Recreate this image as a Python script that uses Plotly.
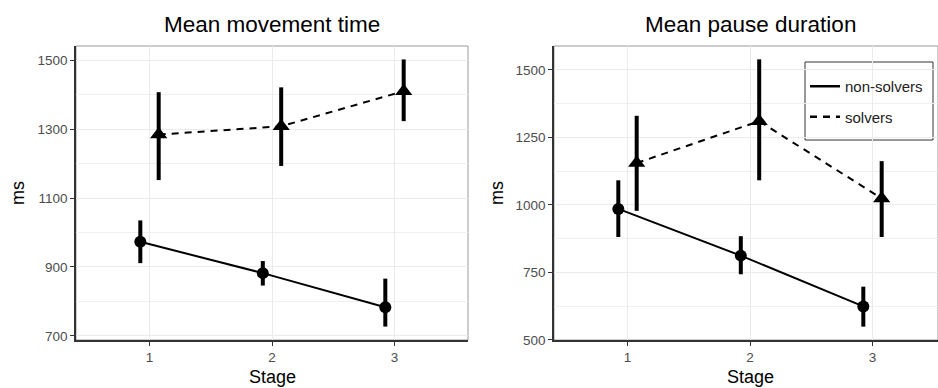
import plotly.graph_objects as go

# ---- data ----
stages = [1, 2, 3]

# Mean movement time (ms)
mt_non_mean = [973, 882, 783]
mt_non_lo = [911, 846, 727]
mt_non_hi = [1035, 917, 866]
mt_sol_mean = [1284, 1308, 1410]
mt_sol_lo = [1152, 1193, 1323]
mt_sol_hi = [1407, 1421, 1502]

# Mean pause duration (ms)
pd_non_mean = [985, 812, 624]
pd_non_lo = [881, 743, 549]
pd_non_hi = [1091, 884, 697]
pd_sol_mean = [1155, 1310, 1024]
pd_sol_lo = [978, 1091, 881]
pd_sol_hi = [1330, 1539, 1162]

titles = ["Mean movement time", "Mean pause duration"]
group_names = ["non-solvers", "solvers"]

# ---- styling ----
W, H = 938, 388
FONT = "Liberation Sans, Arial, Helvetica, sans-serif"
DODGE = 0.075
DASH = "7px,6px"


def fx(px):
    return px / W


def fy(py):
    return 1 - py / H


fig = go.Figure()


def add_group(xa, ya, mean, lo, hi, offset, dash, symbol, size):
    xs = [s + offset for s in stages]
    fig.add_trace(go.Scatter(
        x=xs, y=mean, xaxis=xa, yaxis=ya, mode="lines+markers",
        line=dict(color="black", width=2, dash=dash),
        marker=dict(symbol=symbol, size=size, color="black"),
        error_y=dict(type="data", symmetric=False,
                     array=[h - m for h, m in zip(hi, mean)],
                     arrayminus=[m - l for m, l in zip(mean, lo)],
                     color="black", thickness=4, width=0),
        showlegend=False, hoverinfo="skip"))


add_group("x", "y", mt_non_mean, mt_non_lo, mt_non_hi, -DODGE, "solid", "circle", 12)
add_group("x", "y", mt_sol_mean, mt_sol_lo, mt_sol_hi, DODGE, DASH, "triangle-up", 15)
add_group("x2", "y2", pd_non_mean, pd_non_lo, pd_non_hi, -DODGE, "solid", "circle", 12)
add_group("x2", "y2", pd_sol_mean, pd_sol_lo, pd_sol_hi, DODGE, DASH, "triangle-up", 15)

# legend-only traces (line type only)
for name, dash in zip(group_names, ["solid", DASH]):
    fig.add_trace(go.Scatter(x=[None], y=[None], xaxis="x2", yaxis="y2", mode="lines",
                             name=name, legendgroup=name,
                             line=dict(color="black", width=2.5, dash=dash)))

ydom = [fy(340), fy(46)]
xdom1 = [fx(76), fx(468)]
xdom2 = [fx(554), 1.0]

TICKFONT = dict(size=13.5, color="#4d4d4d", family=FONT)
common_x = dict(tickvals=stages, ticktext=[str(s) for s in stages],
                showgrid=True, gridcolor="#ebebeb", gridwidth=1,
                zeroline=False, showline=True, linecolor="#333333", linewidth=1.5,
                ticks="outside", ticklen=4, tickcolor="#333333",
                tickfont=TICKFONT, automargin=False)
common_y = dict(showgrid=True, gridcolor="#ebebeb", gridwidth=1,
                zeroline=False, showline=True, linecolor="#333333", linewidth=1.5,
                ticks="outside", ticklen=4, tickcolor="#333333",
                tickfont=TICKFONT, automargin=False)

fig.update_layout(
    width=W, height=H,
    margin=dict(l=0, r=0, t=0, b=0),
    paper_bgcolor="white", plot_bgcolor="white",
    font=dict(family=FONT, color="black"),
    xaxis=dict(domain=xdom1, range=[0.4, 3.6], anchor="y", **common_x),
    yaxis=dict(domain=ydom, range=[688, 1541], anchor="x",
               tickvals=[700, 900, 1100, 1300, 1500],
               minor=dict(tickvals=[800, 1000, 1200, 1400], showgrid=True,
                          gridcolor="#f0f0f0", gridwidth=0.7, ticks=""),
               **common_y),
    xaxis2=dict(domain=xdom2, range=[0.4, 0.4 + (938 - 554) / 122.5], anchor="y2", **common_x),
    yaxis2=dict(domain=ydom, range=[499.5, 1588.5], anchor="x2",
                tickvals=[500, 750, 1000, 1250, 1500],
                minor=dict(tickvals=[625, 875, 1125, 1375], showgrid=True,
                           gridcolor="#f0f0f0", gridwidth=0.7, ticks=""),
                **common_y),
    legend=dict(x=fx(805), y=fy(70), xanchor="left", yanchor="top",
                borderwidth=0, bgcolor="rgba(0,0,0,0)",
                font=dict(size=15, color="#222222", family=FONT),
                itemwidth=30, tracegroupgap=8),
    showlegend=True,
)

# panel borders (light grey top/right)
for xr, yr in [("x domain", "y domain"), ("x2 domain", "y2 domain")]:
    fig.add_shape(type="rect", xref=xr, yref=yr, x0=0, x1=1, y0=0, y1=1,
                  line=dict(color="#9a9a9a", width=1), layer="below")

# legend box
fig.add_shape(type="rect", xref="paper", yref="paper",
              x0=fx(805), x1=fx(933), y0=fy(140), y1=fy(62),
              line=dict(color="#333333", width=1), fillcolor="white", layer="below")

# titles and axis titles
centers = [fx((76 + 468) / 2), fx((554 + 946) / 2)]
ms_x = [fx(18), fx(497)]
for i in range(2):
    fig.add_annotation(text=titles[i], x=centers[i], y=fy(25), xref="paper", yref="paper",
                       xanchor="center", yanchor="middle",
                       showarrow=False, font=dict(size=22.5, color="black", family=FONT))
    fig.add_annotation(text="Stage", x=centers[i], y=fy(377), xref="paper", yref="paper",
                       xanchor="center", yanchor="middle",
                       showarrow=False, font=dict(size=18, color="black", family=FONT))
    fig.add_annotation(text="ms", x=ms_x[i], y=fy(193), xref="paper", yref="paper",
                       xanchor="center", yanchor="middle",
                       showarrow=False, textangle=-90,
                       font=dict(size=18, color="black", family=FONT))

fig.write_html("out.html", config={"displayModeBar": False},
               post_script="document.body.style.margin='0';document.body.style.overflow='hidden';")
